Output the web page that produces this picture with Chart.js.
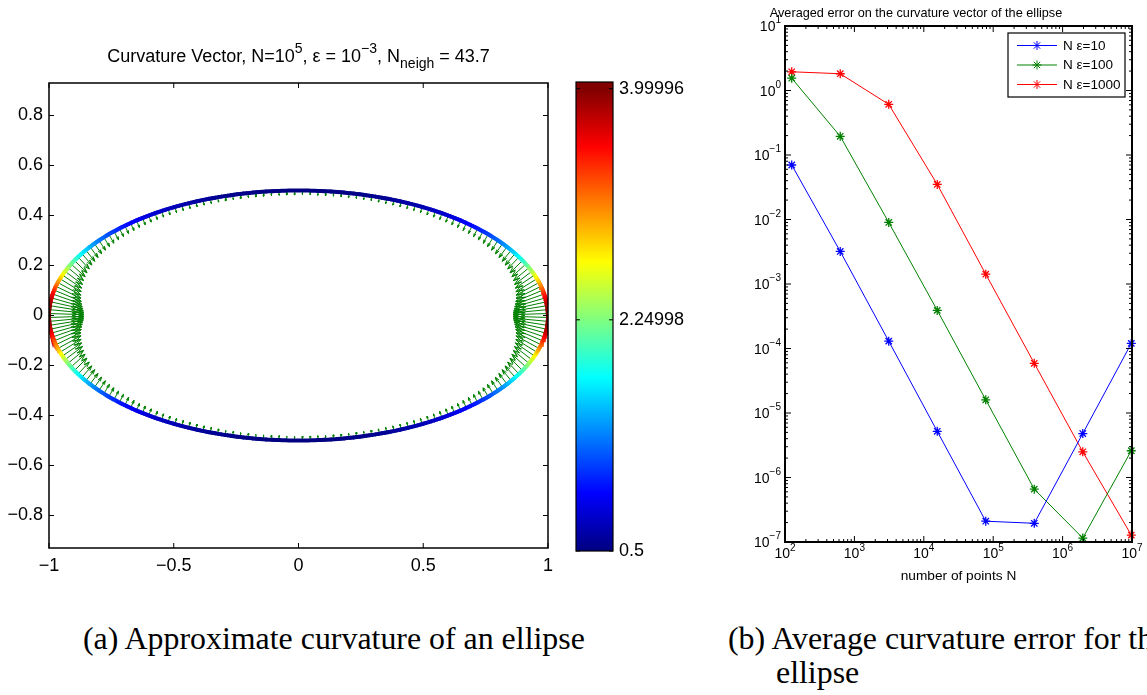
<!DOCTYPE html>
<html>
<head>
<meta charset="utf-8">
<title>Curvature of an ellipse</title>
<script src="https://cdn.jsdelivr.net/npm/chart.js@4.4.1/dist/chart.umd.min.js"></script>
<style>
html,body{margin:0;padding:0;background:#fff;}
body{width:1147px;height:695px;position:relative;overflow:hidden;}
.box{position:absolute;top:0;}
canvas{display:block;}
.cap{position:absolute;font-family:"Liberation Serif","DejaVu Serif",serif;color:#000;white-space:nowrap;line-height:1;}
</style>
</head>
<body>
<div class="box" style="left:0;width:560px;height:600px"><canvas id="ellipseChart" width="560" height="600"></canvas></div>
<div class="box" style="left:560px;width:140px;height:600px"><canvas id="colorbarChart" width="140" height="600"></canvas></div>
<div class="box" style="left:700px;width:447px;height:600px"><canvas id="errorChart" width="447" height="600"></canvas></div>
<div class="cap" id="capA">(a) Approximate curvature of an ellipse</div>
<div class="cap" id="capB1">(b) Average curvature error for the</div>
<div class="cap" id="capB2">ellipse</div>
<script>
// ---------------- data ----------------
const ellipseSemiAxes = [1, 0.5];            // semi-axis along x, along y
const curvatureRange = [0.5, 3.99996];        // colour limits of the curvature
const colorbarLimits = [0.5, 4.05];
const colorbarTickValues = [0.5, 2.24998, 3.99996];
const ellipseXTicks = [-1, -0.5, 0, 0.5, 1];
const ellipseYTicks = [-0.8, -0.6, -0.4, -0.2, 0, 0.2, 0.4, 0.6, 0.8];
const ellipseXLimits = [-1, 1];
const ellipseYLimits = [-0.93, 0.93];
const arrowCount = 200;
const arrowScale = 0.035;
const ellipseSamples = 480;
const leftTitleParts = [
  ['Curvature Vector, N=10', 'n'], ['5', 'sup'], [', \u03b5 = 10', 'n'], ['\u22123', 'sup'],
  [', N', 'n'], ['neigh', 'sub'], [' = 43.7', 'n']
];

const numberOfPoints = [125, 625, 3125, 15625, 78125, 390625, 1953125, 9765625];
const errorEps10   = [0.070, 3.2e-3, 1.3e-4, 5.2e-6, 2.1e-7, 1.95e-7, 4.8e-6, 1.2e-4];
const errorEps100  = [1.55, 0.195, 9.0e-3, 3.9e-4, 1.6e-5, 6.6e-7, 1.15e-7, 2.6e-6];
const errorEps1000 = [1.95, 1.82, 0.61, 0.035, 1.42e-3, 5.9e-5, 2.5e-6, 1.28e-7];
const seriesLabels = ['N \u03b5=10', 'N \u03b5=100', 'N \u03b5=1000'];
const seriesColors = ['rgb(0,0,255)', 'rgb(0,128,0)', 'rgb(255,0,0)'];
const errorXDecades = [2, 3, 4, 5, 6, 7];
const errorYDecades = [-7, -6, -5, -4, -3, -2, -1, 0, 1];
const errorTitle = 'Averaged error on the curvature vector of the ellipse';
const errorXTitle = 'number of points N';

// ---------------- helpers ----------------
const FONT = '"Liberation Sans", Arial, Helvetica, sans-serif';
function jet(t) {
  t = Math.min(1, Math.max(0, t));
  const c = v => Math.round(255 * Math.min(1, Math.max(0, v)));
  return 'rgb(' + c(1.5 - Math.abs(4 * t - 3)) + ',' + c(1.5 - Math.abs(4 * t - 2)) + ',' + c(1.5 - Math.abs(4 * t - 1)) + ')';
}
const colourFor = k => jet((k - curvatureRange[0]) / (curvatureRange[1] - curvatureRange[0]));
const [SA, SB] = ellipseSemiAxes;
function curvatureAt(t) {
  const s = Math.sin(t), c = Math.cos(t);
  return SA * SB / Math.pow(SA * SA * s * s + SB * SB * c * c, 1.5);
}
const curvePts = [], curveK = [];
for (let i = 0; i <= ellipseSamples; i++) {
  const t = 2 * Math.PI * i / ellipseSamples;
  curvePts.push({x: SA * Math.cos(t), y: SB * Math.sin(t)});
  curveK.push(curvatureAt(t));
}
const arrowPts = [];
const headA = 0.33, headB = 0.33;
for (let i = 0; i < arrowCount; i++) {
  const t = 2 * Math.PI * (i + 0.5) / arrowCount;
  const px = SA * Math.cos(t), py = SB * Math.sin(t);
  let nx = SB * Math.cos(t), ny = SA * Math.sin(t);
  const nn = Math.hypot(nx, ny); nx /= nn; ny /= nn;
  const k = curvatureAt(t);
  const u = -nx * k * arrowScale, v = -ny * k * arrowScale;
  const tx = px + u, ty = py + v;
  arrowPts.push({x: px, y: py}, {x: tx, y: ty},
    {x: tx - headA * (u + headB * v), y: ty - headA * (v - headB * u)},
    {x: tx, y: ty},
    {x: tx - headA * (u - headB * v), y: ty - headA * (v + headB * u)},
    {x: px, y: null});
}
const fmtNum = v => { const r = Math.round(v * 10) / 10; return (Math.abs(r) < 1e-9 ? '0' : String(r)).replace('-', '\u2212'); };

function axesPlugin(cfg) {
  return {
    id: 'matlabAxes',
    afterDatasetsDraw(chart) {
      const {ctx, chartArea: a} = chart;
      ctx.save();
      ctx.strokeStyle = '#000';
      ctx.lineWidth = cfg.tickWidth || 1;
      ctx.beginPath();
      const xs = chart.scales.x, ys = chart.scales.y;
      (cfg.xTicks || []).forEach(([v, len]) => {
        const p = xs.getPixelForValue(v);
        ctx.moveTo(p, a.bottom); ctx.lineTo(p, a.bottom - len);
        ctx.moveTo(p, a.top); ctx.lineTo(p, a.top + len);
      });
      (cfg.yTicks || []).forEach(([v, len]) => {
        const p = ys.getPixelForValue(v);
        ctx.moveTo(a.left, p); ctx.lineTo(a.left + len, p);
        ctx.moveTo(a.right, p); ctx.lineTo(a.right - len, p);
      });
      ctx.stroke();
      ctx.lineWidth = cfg.lineWidth || 1;
      ctx.strokeRect(a.left, a.top, a.right - a.left, a.bottom - a.top);
      ctx.restore();
    }
  };
}
function logTicks(decades) {
  const out = [];
  for (let i = 0; i < decades.length; i++) {
    const d = decades[i];
    out.push([Math.pow(10, d), 6]);
    if (i < decades.length - 1) for (let m = 2; m <= 9; m++) out.push([m * Math.pow(10, d), 3]);
  }
  return out;
}

// ---------------- (a) ellipse ----------------
const richTitle = {
  id: 'richTitle',
  afterDraw(chart) {
    const {ctx, chartArea: a} = chart;
    ctx.save();
    ctx.fillStyle = '#000';
    ctx.textBaseline = 'alphabetic';
    ctx.textAlign = 'left';
    const fonts = {n: '18px ' + FONT, sup: '14px ' + FONT, sub: '14px ' + FONT};
    const base = {n: 62, sup: 53, sub: 68};
    let total = 0;
    const widths = leftTitleParts.map(([t, s]) => { ctx.font = fonts[s]; const w = ctx.measureText(t).width; total += w; return w; });
    let x = (a.left + a.right) / 2 - total / 2;
    leftTitleParts.forEach(([t, s], i) => { ctx.font = fonts[s]; ctx.fillText(t, x, base[s]); x += widths[i]; });
    ctx.restore();
  }
};

new Chart(document.getElementById('ellipseChart'), {
  type: 'scatter',
  data: {
    datasets: [
      {
        label: 'curvature', data: curvePts, showLine: true, pointRadius: 0,
        borderWidth: 4, borderCapStyle: 'round', borderColor: colourFor(curvatureRange[0]),
        segment: { borderColor: c => colourFor((curveK[c.p0DataIndex] + curveK[c.p1DataIndex]) / 2) }
      },
      {
        label: 'curvature vector', data: arrowPts, showLine: true, pointRadius: 0,
        borderWidth: 1, borderColor: 'rgb(0,128,0)', spanGaps: false
      }
    ]
  },
  options: {
    responsive: false, animation: false, events: [],
    layout: { padding: { top: 83, right: 11, left: 0, bottom: 0 } },
    plugins: { legend: { display: false }, tooltip: { enabled: false } },
    scales: {
      x: {
        type: 'linear', min: ellipseXLimits[0], max: ellipseXLimits[1],
        grid: { display: false, drawTicks: false }, border: { display: false },
        afterBuildTicks: s => { s.ticks = ellipseXTicks.map(v => ({value: v})); },
        afterFit: s => { s.height = 52; },
        ticks: { font: { family: FONT, size: 18 }, color: '#000', padding: 7, autoSkip: false, maxRotation: 0, callback: v => fmtNum(v) }
      },
      y: {
        type: 'linear', min: ellipseYLimits[0], max: ellipseYLimits[1],
        grid: { display: false, drawTicks: false }, border: { display: false },
        afterBuildTicks: s => { s.ticks = ellipseYTicks.map(v => ({value: v})); },
        afterFit: s => { s.width = 49; },
        ticks: { font: { family: FONT, size: 18 }, color: '#000', padding: 6, autoSkip: false, callback: v => fmtNum(v) }
      }
    }
  },
  plugins: [axesPlugin({ lineWidth: 1.5, xTicks: ellipseXTicks.map(v => [v, 5]), yTicks: ellipseYTicks.map(v => [v, 5]) }), richTitle]
});

// ---------------- colour bar ----------------
function jetGradient(chart) {
  const ys = chart.scales.y;
  if (!chart.chartArea || !ys) return jet(0);
  const y0 = ys.getPixelForValue(curvatureRange[0]), y1 = ys.getPixelForValue(curvatureRange[1]);
  const g = chart.ctx.createLinearGradient(0, y0, 0, y1);
  for (let i = 0; i <= 16; i++) g.addColorStop(i / 16, jet(i / 16));
  return g;
}
new Chart(document.getElementById('colorbarChart'), {
  type: 'bar',
  data: { labels: ['curvature'], datasets: [{ data: [colorbarLimits], backgroundColor: c => jetGradient(c.chart), borderWidth: 0, barPercentage: 1, categoryPercentage: 1 }] },
  options: {
    responsive: false, animation: false, events: [],
    layout: { padding: { left: 16, top: 82, bottom: 49, right: 0 } },
    plugins: { legend: { display: false }, tooltip: { enabled: false } },
    scales: {
      x: { display: false },
      y: {
        position: 'right', min: colorbarLimits[0], max: colorbarLimits[1],
        grid: { display: false, drawTicks: false }, border: { display: false },
        afterBuildTicks: s => { s.ticks = colorbarTickValues.map(v => ({value: v})); },
        afterFit: s => { s.width = 87; },
        ticks: { font: { family: FONT, size: 18 }, color: '#000', padding: 6, autoSkip: false, callback: v => String(v) }
      }
    }
  },
  plugins: [axesPlugin({ lineWidth: 1.2, yTicks: colorbarTickValues.map(v => [v, 4]) })]
});

// ---------------- (b) error curves ----------------
const errorSeries = [errorEps10, errorEps100, errorEps1000];
const expText = d => String(d).replace('-', '\u2212');
const decadeLabels = {
  id: 'decadeLabels',
  afterDraw(chart) {
    const {ctx, chartArea: a, scales: {x, y}} = chart;
    ctx.save();
    ctx.fillStyle = '#000';
    ctx.textAlign = 'left';
    ctx.textBaseline = 'alphabetic';
    const big = '14px ' + FONT, small = '10px ' + FONT;
    errorXDecades.forEach(d => {
      const p = x.getPixelForValue(Math.pow(10, d));
      const sup = expText(d);
      ctx.font = big; const w1 = ctx.measureText('10').width;
      ctx.font = small; const w2 = ctx.measureText(sup).width;
      const start = p - (w1 + w2) / 2;
      ctx.font = big; ctx.fillText('10', start, a.bottom + 15.5);
      ctx.font = small; ctx.fillText(sup, start + w1, a.bottom + 8.5);
    });
    errorYDecades.forEach(d => {
      const p = y.getPixelForValue(Math.pow(10, d));
      const sup = expText(d);
      ctx.font = big; const w1 = ctx.measureText('10').width;
      ctx.font = small; const w2 = ctx.measureText(sup).width;
      const right = a.left - 4;
      ctx.font = big; ctx.fillText('10', right - w2 - w1, p + 5);
      ctx.font = small; ctx.fillText(sup, right - w2, p - 3);
    });
    ctx.restore();
  }
};
const legendBox = {
  id: 'legendBox',
  afterDraw(chart) {
    const {ctx, chartArea: a} = chart;
    const bw = 117, bh = 64;
    const bx = a.right - 7 - bw, by = a.top + 7;
    ctx.save();
    ctx.fillStyle = '#fff';
    ctx.fillRect(bx, by, bw, bh);
    ctx.strokeStyle = '#000'; ctx.lineWidth = 1.2;
    ctx.strokeRect(bx, by, bw, bh);
    ctx.font = '13.5px ' + FONT;
    ctx.textBaseline = 'middle'; ctx.textAlign = 'left';
    chart.data.datasets.forEach((ds, i) => {
      const yy = by + 12.5 + i * 19.5;
      ctx.strokeStyle = ds.borderColor; ctx.lineWidth = 1;
      ctx.beginPath(); ctx.moveTo(bx + 9, yy); ctx.lineTo(bx + 49, yy); ctx.stroke();
      Chart.helpers.drawPoint(ctx, { pointStyle: 'star', radius: 4.5, rotation: 0, borderWidth: 1.3 }, bx + 29, yy);
      ctx.fillStyle = '#000';
      ctx.fillText(ds.label, bx + 55, yy + 0.5);
    });
    ctx.restore();
  }
};
new Chart(document.getElementById('errorChart'), {
  type: 'scatter',
  data: {
    datasets: errorSeries.map((vals, i) => ({
      label: seriesLabels[i],
      data: numberOfPoints.map((n, j) => ({x: n, y: vals[j]})),
      showLine: true, borderColor: seriesColors[i], backgroundColor: seriesColors[i],
      borderWidth: 1, pointStyle: 'star', pointRadius: 4.5, pointBorderWidth: 1.3,
      pointBorderColor: seriesColors[i], clip: false
    }))
  },
  options: {
    responsive: false, animation: false, events: [],
    layout: { padding: { left: 0, right: 15, top: 0, bottom: 0 } },
    plugins: {
      legend: { display: false }, tooltip: { enabled: false },
      title: { display: true, text: errorTitle, color: '#000', font: { family: FONT, size: 12.7, weight: 'normal' }, padding: { top: 5.5, bottom: 5.26 } }
    },
    scales: {
      x: {
        type: 'logarithmic', min: Math.pow(10, errorXDecades[0]), max: Math.pow(10, errorXDecades[errorXDecades.length - 1]),
        grid: { display: false, drawTicks: false }, border: { display: false }, ticks: { display: false },
        title: { display: true, text: errorXTitle, color: '#000', font: { family: FONT, size: 13.7 }, padding: { top: 0, bottom: 15.8 } },
        afterFit: s => { s.height = 58; }
      },
      y: {
        type: 'logarithmic', min: Math.pow(10, errorYDecades[0]), max: Math.pow(10, errorYDecades[errorYDecades.length - 1]),
        grid: { display: false, drawTicks: false }, border: { display: false }, ticks: { display: false },
        afterFit: s => { s.width = 85; }
      }
    }
  },
  plugins: [axesPlugin({ lineWidth: 2, xTicks: logTicks(errorXDecades), yTicks: logTicks(errorYDecades) }), decadeLabels, legendBox]
});

// ---------------- captions ----------------
const capEls = ['capA', 'capB1', 'capB2'].map(id => document.getElementById(id));
capEls.forEach(e => { e.style.fontSize = '26px'; });
const wA = capEls[0].getBoundingClientRect().width;
const capSize = 26 * 502 / wA;
capEls.forEach(e => { e.style.fontSize = capSize + 'px'; });
const capAsc = 0.8375 * capSize;
function placeCap(e, x, base) { e.style.left = x + 'px'; e.style.top = (base - capAsc) + 'px'; }
placeCap(capEls[0], 83, 650);
placeCap(capEls[1], 728, 650);
placeCap(capEls[2], 776, 684);
</script>
</body>
</html>
